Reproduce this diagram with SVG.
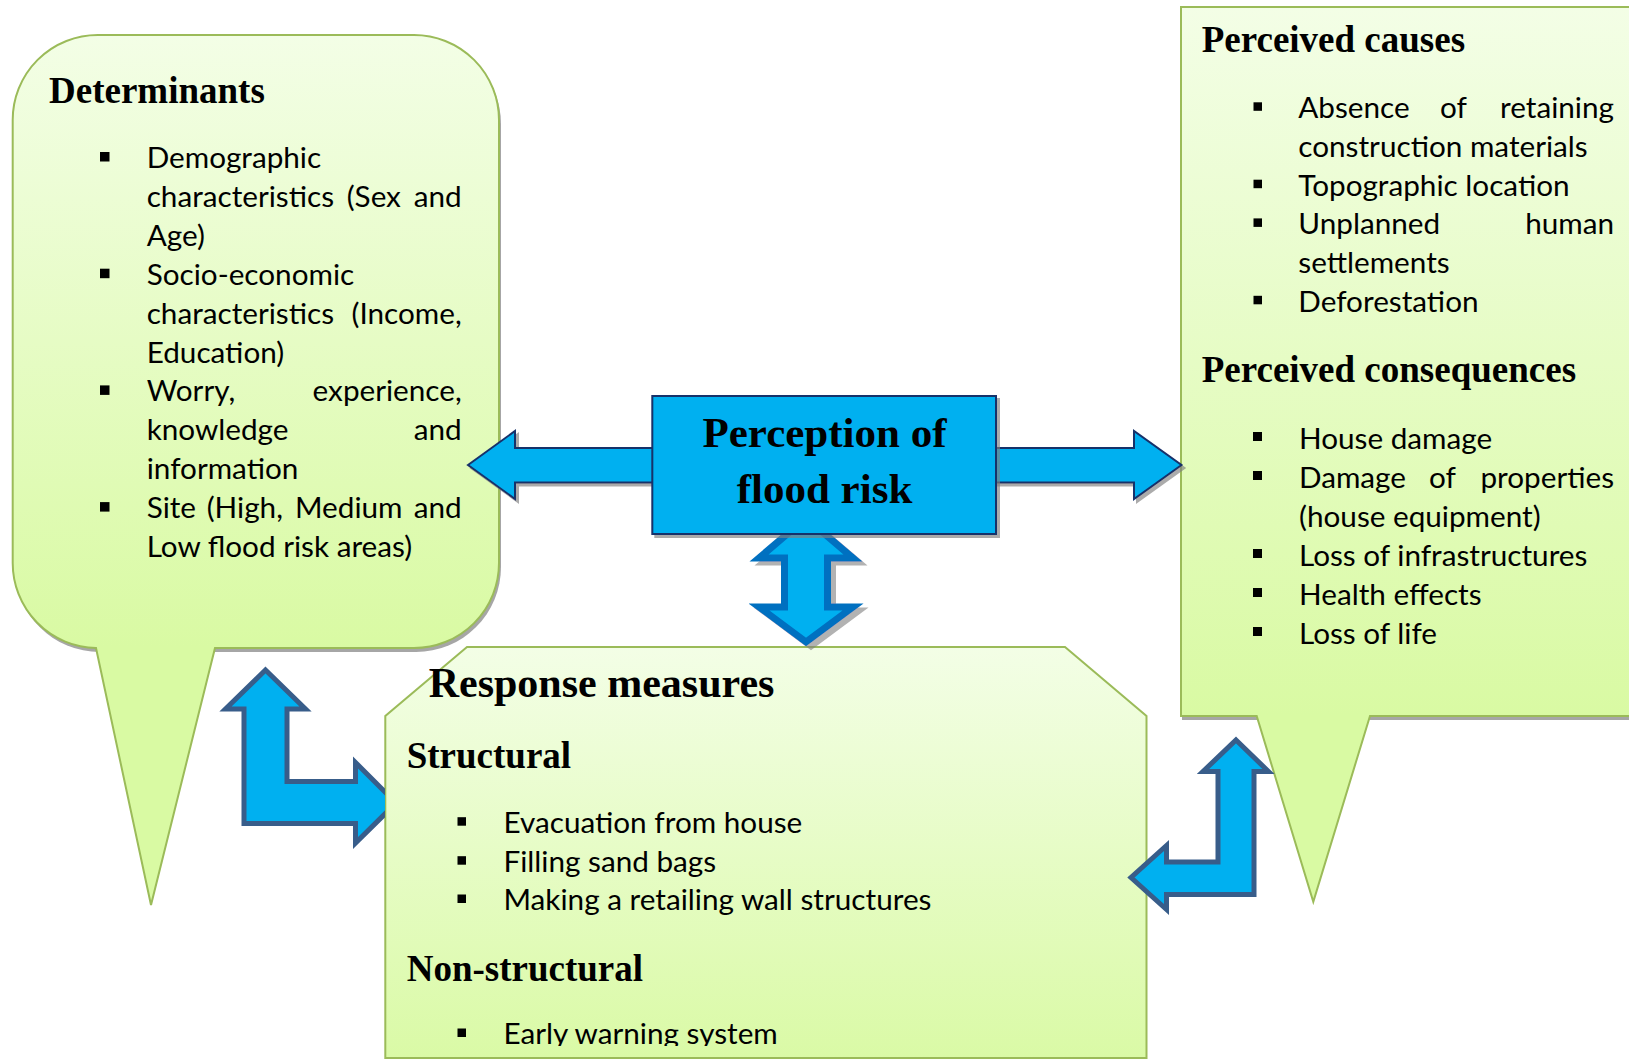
<svg xmlns="http://www.w3.org/2000/svg" width="1629" height="1060" viewBox="0 0 1629 1060">
<defs>
<linearGradient id="gL" gradientUnits="userSpaceOnUse" x1="0" y1="35" x2="0" y2="648"><stop offset="0" stop-color="#f3fee6"/><stop offset="1" stop-color="#d9faa3"/></linearGradient>
<linearGradient id="gR" gradientUnits="userSpaceOnUse" x1="0" y1="7" x2="0" y2="716"><stop offset="0" stop-color="#f3fee6"/><stop offset="1" stop-color="#d9faa3"/></linearGradient>
<linearGradient id="gB" gradientUnits="userSpaceOnUse" x1="0" y1="647" x2="0" y2="1058"><stop offset="0" stop-color="#f3fee6"/><stop offset="1" stop-color="#dafaa6"/></linearGradient>
<filter id="shd" x="-10%" y="-10%" width="130%" height="130%"><feOffset in="SourceAlpha" dx="3" dy="3" result="o"/><feFlood flood-color="#7f7f7f" flood-opacity="0.65"/><feComposite in2="o" operator="in"/><feMerge><feMergeNode/><feMergeNode in="SourceGraphic"/></feMerge></filter>
<filter id="shd2" x="-10%" y="-10%" width="130%" height="130%"><feOffset in="SourceAlpha" dx="5" dy="4" result="o"/><feFlood flood-color="#7f7f7f" flood-opacity="0.6"/><feComposite in2="o" operator="in"/><feMerge><feMergeNode/><feMergeNode in="SourceGraphic"/></feMerge></filter>
<clipPath id="clipResp"><rect x="380" y="640" width="780" height="406"/></clipPath>
<clipPath id="clipL"><rect x="0" y="600" width="385" height="300"/></clipPath>
<clipPath id="clipV"><rect x="700" y="535" width="220" height="130"/></clipPath>
</defs>
<style>
.box{stroke:#9bbb59;stroke-width:2}
.sh{fill:#a6a6a6}
.h{font-family:"Liberation Serif","Times New Roman",serif;font-weight:bold;fill:#000}
.t{font-family:Lato,"Liberation Sans",sans-serif;font-size:29.7px;fill:#000}
.b{fill:#000}
.arr{fill:#00b0f0;stroke:#385d8a;stroke-width:5;stroke-linejoin:miter}
.arrN{fill:#00b0f0;stroke:#17306a;stroke-width:2}
.arrV{fill:#00b0f0;stroke:#0070c0;stroke-width:7}
</style>
<rect width="1629" height="1060" fill="#fff"/>

<g id="determinants">
<rect class="sh" x="14.7" y="39" width="486.3" height="613" rx="85" ry="85"/>
<path class="box" fill="url(#gL)" d="M97.7,35 H414 A85,85 0 0 1 499,120 V563 A85,85 0 0 1 414,648 H215 L151,905 L96,648 A85,85 0 0 1 12.7,563 V120 A85,85 0 0 1 97.7,35 Z"/>
<text class="h" x="49" y="103" font-size="37">Determinants</text>
<rect class="b" x="100" y="152" width="9.5" height="9.5"/>
<rect class="b" x="100" y="268.7" width="9.5" height="9.5"/>
<rect class="b" x="100" y="385.4" width="9.5" height="9.5"/>
<rect class="b" x="100" y="502.1" width="9.5" height="9.5"/>
<text class="t" x="146.7" y="168">Demographic</text>
<text class="t" x="146.7" y="206.9">characteristics</text>
<text class="t" x="346.7" y="206.9">(Sex</text>
<text class="t" x="461.7" y="206.9" text-anchor="end">and</text>
<text class="t" x="146.7" y="245.8">Age)</text>
<text class="t" x="146.7" y="284.7">Socio-economic</text>
<text class="t" x="146.7" y="323.6">characteristics</text>
<text class="t" x="461.7" y="323.6" text-anchor="end">(Income,</text>
<text class="t" x="146.7" y="362.5">Education)</text>
<text class="t" x="146.7" y="401.4">Worry,</text>
<text class="t" x="461.7" y="401.4" text-anchor="end">experience,</text>
<text class="t" x="146.7" y="440.3">knowledge</text>
<text class="t" x="461.7" y="440.3" text-anchor="end">and</text>
<text class="t" x="146.7" y="479.2">information</text>
<text class="t" x="146.7" y="518.1">Site</text>
<text class="t" x="206.7" y="518.1">(High,</text>
<text class="t" x="295" y="518.1">Medium</text>
<text class="t" x="461.7" y="518.1" text-anchor="end">and</text>
<text class="t" x="146.7" y="557">Low flood risk areas)</text>
</g>

<g id="perceived">
<rect class="sh" x="1182" y="11" width="460" height="709"/>
<path class="box" fill="url(#gR)" d="M1181,7 H1640 V716 H1370 L1313.3,901.7 L1256.7,716 H1181 Z"/>
<text class="h" x="1201.7" y="51.7" font-size="37">Perceived causes</text>
<rect class="b" x="1253.5" y="102.3" width="8.5" height="8.5"/>
<rect class="b" x="1253.5" y="179.7" width="8.5" height="8.5"/>
<rect class="b" x="1253.5" y="218.4" width="8.5" height="8.5"/>
<rect class="b" x="1253.5" y="295.8" width="8.5" height="8.5"/>
<text class="t" x="1298.3" y="118.3">Absence</text>
<text class="t" x="1440" y="118.3">of</text>
<text class="t" x="1614" y="118.3" text-anchor="end">retaining</text>
<text class="t" x="1298.3" y="157">construction materials</text>
<text class="t" x="1298.3" y="195.7">Topographic location</text>
<text class="t" x="1298.3" y="234.4">Unplanned</text>
<text class="t" x="1614" y="234.4" text-anchor="end">human</text>
<text class="t" x="1298.3" y="273.1">settlements</text>
<text class="t" x="1298.3" y="311.8">Deforestation</text>
<text class="h" x="1201.7" y="381.7" font-size="37">Perceived consequences</text>
<rect class="b" x="1253" y="432" width="9" height="9"/>
<rect class="b" x="1253" y="471" width="9" height="9"/>
<rect class="b" x="1253" y="549" width="9" height="9"/>
<rect class="b" x="1253" y="588" width="9" height="9"/>
<rect class="b" x="1253" y="627" width="9" height="9"/>
<text class="t" x="1299" y="448.5">House damage</text>
<text class="t" x="1299" y="487.5">Damage</text>
<text class="t" x="1429" y="487.5">of</text>
<text class="t" x="1614" y="487.5" text-anchor="end">properties</text>
<text class="t" x="1299" y="526.5">(house equipment)</text>
<text class="t" x="1299" y="565.5">Loss of infrastructures</text>
<text class="t" x="1299" y="604.5">Health effects</text>
<text class="t" x="1299" y="643.5">Loss of life</text>
</g>

<g id="response">
<path class="box" fill="url(#gB)" d="M467,647 H1065 L1146.5,716 V1058 H385.3 V716 Z"/>
<g clip-path="url(#clipResp)">
<text class="h" x="428.7" y="697.3" font-size="42">Response measures</text>
<text class="h" x="406.7" y="768.3" font-size="37">Structural</text>
<rect class="b" x="457.5" y="817.2" width="8.5" height="8.5"/>
<rect class="b" x="457.5" y="856.2" width="8.5" height="8.5"/>
<rect class="b" x="457.5" y="894.5" width="8.5" height="8.5"/>
<text class="t" x="503.5" y="832.7">Evacuation from house</text>
<text class="t" x="503.5" y="871.7">Filling sand bags</text>
<text class="t" x="503.5" y="910">Making a retailing wall structures</text>
<text class="h" x="406.7" y="980.7" font-size="37">Non-structural</text>
<rect class="b" x="457.5" y="1028.5" width="8.5" height="8.5"/>
<text class="t" x="503.5" y="1044">Early warning system</text>
</g>
</g>

<g id="connectors">
<path class="arr" clip-path="url(#clipL)" d="M265.5,670 L305.5,709 L287,709 L287,781.5 L355.5,781.5 L355.5,762.5 L396,803 L355.5,843 L355.5,823.5 L244,823.5 L244,709 L225.5,709 Z"/>
<path class="arr" stroke-width="4.5" d="M1236,740 L1268.5,771.5 L1254,771.5 L1254,894.5 L1166.5,894.5 L1166.5,909.5 L1131,877.5 L1166.5,845.5 L1166.5,862 L1218,862 L1218,771.5 L1203,771.5 Z"/>
<path class="arrN" filter="url(#shd)" d="M468,465 L515,431 L515,448 L1134,448 L1134,431 L1181.5,465 L1134,499 L1134,482.5 L515,482.5 L515,499 Z"/>
<g clip-path="url(#clipV)">
<path class="arrV" filter="url(#shd2)" d="M806,518 L853,558 L827.5,558 L827.5,607 L853,607 L806,642 L759,607 L784.5,607 L784.5,558 L759,558 Z"/>
</g>
</g>

<g id="perception">
<rect x="652.3" y="396" width="343.7" height="138" fill="#00b0f0" stroke="#17306a" stroke-width="2" filter="url(#shd)"/>
<text class="h" x="824.5" y="446.7" font-size="43" text-anchor="middle">Perception of</text>
<text class="h" x="824.5" y="502.7" font-size="43" text-anchor="middle">flood risk</text>
</g>
</svg>
